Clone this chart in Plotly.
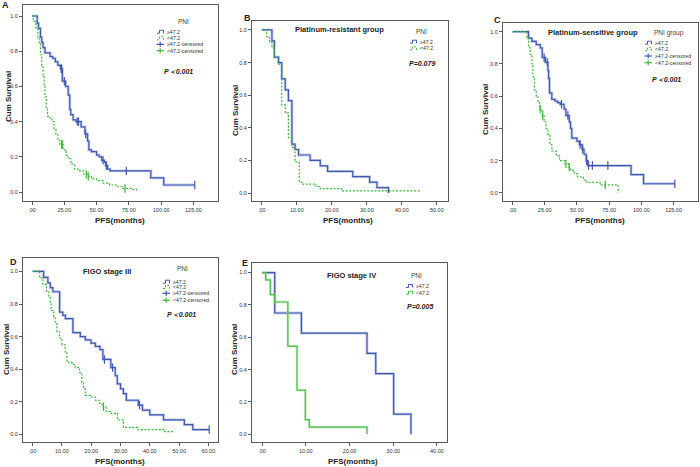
import plotly.graph_objects as go

W, H = 700, 467
BLUE = '#4256ac'
BLUE_SH = 'rgba(140,160,220,0.5)'
GREEN = '#3cb43c'
GREEN_E = '#4cbc4c'
GREEN_SH = 'rgba(150,220,150,0.45)'
FONT = 'Arial, Liberation Sans, sans-serif'
DOT = '2px,1.6px'

# ---------------- data ----------------
# Panel A: all patients
A_hi_t = [0, 4, 5, 6.5, 7.5, 8.5, 10, 14, 16, 18, 20, 22, 23.5, 26, 28, 29.2, 30, 31.8, 34, 38, 41, 43, 44, 46, 50, 52, 54, 56, 57, 58.5, 60.5, 92, 102, 126]
A_hi_s = [1.0, 0.96, 0.93, 0.88, 0.85, 0.82, 0.79, 0.77, 0.76, 0.74, 0.72, 0.70, 0.63, 0.60, 0.55, 0.47, 0.44, 0.41, 0.40, 0.37, 0.33, 0.29, 0.24, 0.23, 0.21, 0.20, 0.18, 0.17, 0.15, 0.13, 0.12, 0.08, 0.04, 0.04]
A_hi_c = [22.5, 23, 25, 35, 36, 41.5, 55, 57.5, 73, 126]
A_lo_t = [0, 1, 3, 4.5, 5.5, 6.5, 7.5, 8.5, 9.3, 10, 11, 12, 14, 15.5, 17, 18.5, 20, 21.5, 24, 26.5, 28, 30, 33, 37, 40, 43, 46, 50, 55, 60, 65, 70, 78, 81]
A_lo_s = [1.0, 0.97, 0.93, 0.88, 0.84, 0.78, 0.72, 0.66, 0.60, 0.54, 0.48, 0.43, 0.42, 0.40, 0.36, 0.33, 0.30, 0.27, 0.24, 0.21, 0.19, 0.16, 0.13, 0.12, 0.10, 0.09, 0.075, 0.065, 0.05, 0.04, 0.03, 0.02, 0.015, 0.005]
A_lo_c = [23, 23.5, 42, 43.5, 72]

# Panel B: platinum-resistant
B_hi_t = [0, 2.9, 3.6, 4.8, 5.7, 6.7, 7.6, 8.6, 9.5, 10.5, 13.8, 16.7, 18.8, 26, 30.8, 32.9, 36.2]
B_hi_s = [1.0, 0.933, 0.833, 0.80, 0.70, 0.633, 0.567, 0.30, 0.267, 0.233, 0.20, 0.167, 0.133, 0.10, 0.067, 0.033, 0.0]
B_lo_t = [0, 1.4, 2.2, 2.9, 3.6, 4.6, 5.7, 6.7, 7.6, 8.6, 9.5, 10.7, 11.7, 15.5, 16.7, 22.7, 45.2]
B_lo_s = [1.0, 0.96, 0.93, 0.89, 0.83, 0.79, 0.54, 0.49, 0.34, 0.28, 0.19, 0.067, 0.055, 0.04, 0.027, 0.013, 0.005]

# Panel C: platinum-sensitive
C_hi_t = [0, 12.4, 15, 18.4, 21.5, 23, 25.5, 27.5, 28, 28.7, 30.5, 33, 35, 37, 40, 41.5, 44, 45, 46, 50, 52, 54, 55.5, 57.2, 58.5, 92, 101.7, 126]
C_hi_s = [1.0, 0.96, 0.94, 0.92, 0.90, 0.84, 0.81, 0.76, 0.71, 0.62, 0.58, 0.57, 0.56, 0.55, 0.52, 0.48, 0.44, 0.40, 0.34, 0.32, 0.30, 0.27, 0.24, 0.20, 0.17, 0.113, 0.057, 0.057]
C_hi_c = [24.5, 27, 38, 43, 52.5, 54.5, 57.5, 59, 62, 74, 126]
C_lo_t = [0, 11.1, 12.5, 13.7, 15, 15.8, 17, 18.4, 19.7, 21, 23, 24.5, 26, 27.5, 29, 30.5, 34, 36.5, 40.5, 43.5, 45, 48, 50.5, 55, 57.7, 68, 82]
C_lo_s = [1.0, 0.96, 0.90, 0.86, 0.80, 0.72, 0.64, 0.60, 0.56, 0.52, 0.48, 0.44, 0.40, 0.36, 0.30, 0.26, 0.23, 0.20, 0.18, 0.16, 0.14, 0.12, 0.10, 0.08, 0.065, 0.05, 0.0]
C_lo_c = [21.5, 23.5, 41.5, 44, 72]

# Panel D: FIGO stage III
D_hi_t = [0, 3.75, 5.2, 6, 6.9, 9.2, 10.3, 11.2, 13.75, 16.25, 18, 19.9, 21.4, 23, 24, 26.7, 28.2, 28.9, 30, 31, 32, 36.1, 37.5, 40, 44.7, 51.8, 54.7, 60.3]
D_hi_s = [1.0, 0.963, 0.93, 0.90, 0.875, 0.75, 0.73, 0.71, 0.625, 0.60, 0.58, 0.56, 0.54, 0.52, 0.46, 0.41, 0.36, 0.31, 0.28, 0.25, 0.21, 0.18, 0.15, 0.12, 0.09, 0.06, 0.03, 0.03]
D_hi_c = [24.5, 27.3, 36.5, 60.3]
D_lo_t = [0, 2.4, 3.5, 4.7, 5.5, 6, 6.3, 7.2, 7.7, 8.3, 9.2, 10, 11.1, 11.7, 12.3, 13.5, 14.5, 16, 16.8, 17.4, 18, 19.9, 21.4, 22.9, 23.7, 25.1, 26.5, 29, 31, 36, 45, 48]
D_lo_s = [1.0, 0.96, 0.92, 0.88, 0.84, 0.80, 0.76, 0.72, 0.68, 0.63, 0.59, 0.55, 0.50, 0.45, 0.44, 0.43, 0.41, 0.38, 0.32, 0.28, 0.24, 0.23, 0.21, 0.19, 0.17, 0.14, 0.13, 0.09, 0.044, 0.03, 0.017, 0.008]
D_lo_c = [24.2]

# Panel E: FIGO stage IV
E_hi_t = [0, 2.9, 9, 24, 26, 30.1, 34.05]
E_hi_s = [1.0, 0.75, 0.625, 0.5, 0.375, 0.125, 0.0]
E_lo_t = [0, 0.84, 1.9, 2.9, 5.9, 8, 9.9, 10.8, 24]
E_lo_s = [1.0, 0.955, 0.864, 0.818, 0.545, 0.273, 0.091, 0.045, 0.0]

Y_TICKS = [0.0, 0.2, 0.4, 0.6, 0.8, 1.0]
Y_TICK_TEXT = ['0.0', '0.2', '0.4', '0.6', '0.8', '1.0']
X_TICKS_125 = [0, 25, 50, 75, 100, 125]
X_TEXT_125 = ['.00', '25.00', '50.00', '75.00', '100.00', '125.00']
X_TICKS_50 = [0, 10, 20, 30, 40, 50]
X_TEXT_50 = ['.00', '10.00', '20.00', '30.00', '40.00', '50.00']
X_TICKS_60 = [0, 10, 20, 30, 40, 50, 60]
X_TEXT_60 = ['.00', '10.00', '20.00', '30.00', '40.00', '50.00', '60.00']
X_TICKS_40 = [0, 10, 20, 30, 40]
X_TEXT_40 = ['.00', '10.00', '20.00', '30.00', '40.00']

LEG4 = ['≥47.2', '<47.2', '≥47.2-censored', '<47.2-censored']
LEG2 = ['≥47.2', '<47.2']
X_TITLE = 'PFS(months)'
Y_TITLE = 'Cum Survival'


def step_at(ts, ss, t):
    v = ss[0]
    for ti, si in zip(ts, ss):
        if ti <= t:
            v = si
        else:
            break
    return v


def px(x):
    return x / W


def py(y):
    return 1 - y / H


panels = [
    dict(letter='A', title=None, box=(23, 5, 218, 201), xr=(-7, 144), yr=(-0.051, 1.0625),
         xt=X_TICKS_125, xtt=X_TEXT_125,
         hi=(A_hi_t, A_hi_s, A_hi_c), lo=(A_lo_t, A_lo_s, A_lo_c), lo_dash=DOT, lo_col=GREEN,
         leg_title='PNI', leg_title_xy=(183, 21), leg_items=LEG4, leg_x=157, leg_y=[31.7, 38.3, 44.3, 50.7],
         p='P＜0.001', p_xy=(178, 71), letter_xy=(5, 5), title_xy=None,
         xtitle_xy=(120, 220), ytitle_xy=(8, 97)),
    dict(letter='B', title='Platinum-resistant group', box=(252, 21, 448, 201), xr=(-2.8, 53.2), yr=(-0.049, 1.055),
         xt=X_TICKS_50, xtt=X_TEXT_50,
         hi=(B_hi_t, B_hi_s, []), lo=(B_lo_t, B_lo_s, []), lo_dash=DOT, lo_col=GREEN,
         leg_title='PNI', leg_title_xy=(421.7, 31.7), leg_items=LEG2, leg_x=410, leg_y=[41.7, 48.3],
         p='P=0.079', p_xy=(421.7, 63.3), letter_xy=(247, 18), title_xy=(339.3, 29.5),
         xtitle_xy=(348, 220), ytitle_xy=(235, 110)),
    dict(letter='C', title='Platinum-sensitive group', box=(503, 23, 697.5, 201), xr=(-7.4, 143.6), yr=(-0.05, 1.054),
         xt=X_TICKS_125, xtt=X_TEXT_125,
         hi=(C_hi_t, C_hi_s, C_hi_c), lo=(C_lo_t, C_lo_s, C_lo_c), lo_dash=DOT, lo_col=GREEN,
         leg_title='PNI group', leg_title_xy=(669, 33), leg_items=LEG4, leg_x=645, leg_y=[42.7, 49.3, 56, 62.7],
         p='P＜0.001', p_xy=(666.7, 80), letter_xy=(497, 20), title_xy=(592.7, 32.3),
         xtitle_xy=(600, 220.5), ytitle_xy=(485, 110)),
    dict(letter='D', title='FIGO stage III', box=(23, 258, 218, 442), xr=(-3.3, 63.3), yr=(-0.046, 1.082),
         xt=X_TICKS_60, xtt=X_TEXT_60,
         hi=(D_hi_t, D_hi_s, D_hi_c), lo=(D_lo_t, D_lo_s, D_lo_c), lo_dash=DOT, lo_col=GREEN,
         leg_title='PNI', leg_title_xy=(182.7, 268.3), leg_items=LEG4, leg_x=163, leg_y=[281.7, 287, 293.3, 300.3],
         p='P＜0.001', p_xy=(181.7, 314.3), letter_xy=(13, 262), title_xy=(106.7, 271.7),
         xtitle_xy=(120, 461), ytitle_xy=(6, 350)),
    dict(letter='E', title='FIGO stage IV', box=(252, 263, 447, 442), xr=(-2.3, 42.3), yr=(-0.0475, 1.059),
         xt=X_TICKS_40, xtt=X_TEXT_40,
         hi=(E_hi_t, E_hi_s, []), lo=(E_lo_t, E_lo_s, []), lo_dash='solid', lo_col=GREEN_E,
         leg_title='PNI', leg_title_xy=(416.7, 275), leg_items=LEG2, leg_x=406, leg_y=[286, 292.7],
         p='P=0.005', p_xy=(420, 306), letter_xy=(245, 263), title_xy=(351.7, 275),
         xtitle_xy=(353, 461), ytitle_xy=(234, 350)),
]

fig = go.Figure()
annotations = []
shapes = []
layout = {}


def ann(x, y, text, size, color='#222', anchor='center', angle=0):
    annotations.append(dict(x=px(x), y=py(y), xref='paper', yref='paper', text=text, showarrow=False,
                            xanchor=anchor, yanchor='middle', textangle=angle,
                            font=dict(family=FONT, size=size, color=color)))


for i, p in enumerate(panels):
    n = '' if i == 0 else str(i + 1)
    xa, ya = 'x' + n, 'y' + n
    x0, y0, x1, y1 = p['box']
    common_ax = dict(showline=True, linecolor='#5a5a5a', linewidth=1, mirror=True, showgrid=False,
                     zeroline=False, ticks='outside', ticklen=3, tickcolor='#5a5a5a', tickwidth=1,
                     tickfont=dict(family=FONT, size=5.5, color='#333'))
    layout['xaxis' + n] = dict(domain=[px(x0), px(x1)], range=list(p['xr']), anchor=ya,
                               tickvals=p['xt'], ticktext=p['xtt'], **common_ax)
    layout['yaxis' + n] = dict(domain=[py(y1), py(y0)], range=list(p['yr']), anchor=xa,
                               tickvals=Y_TICKS, ticktext=Y_TICK_TEXT, **common_ax)
    for grp, color, shadow, dash in (('hi', BLUE, BLUE_SH, 'solid'), ('lo', p['lo_col'], GREEN_SH, p['lo_dash'])):
        t, s, c = p[grp]
        if dash == 'solid':
            fig.add_trace(go.Scatter(x=t, y=s, mode='lines', line=dict(color=shadow, width=2.8, shape='hv'),
                                     xaxis=xa, yaxis=ya, showlegend=False, hoverinfo='skip'))
        fig.add_trace(go.Scatter(x=t, y=s, mode='lines', line=dict(color=color, width=1.2, shape='hv', dash=dash),
                                 xaxis=xa, yaxis=ya, showlegend=False))
        if c:
            fig.add_trace(go.Scatter(x=c, y=[step_at(t, s, ci) for ci in c], mode='markers',
                                     marker=dict(symbol='line-ns', size=6, line=dict(color=color, width=1.2)),
                                     xaxis=xa, yaxis=ya, showlegend=False))
    lx, ly = p['letter_xy']
    ann(lx, ly, '<b>%s</b>' % p['letter'], 9)
    if p['title']:
        tx, ty = p['title_xy']
        ann(tx, ty, '<b>%s</b>' % p['title'], 7.5)
    qx, qy = p['p_xy']
    ann(qx, qy, '<b><i>%s</i></b>' % p['p'], 7)
    ax_, ay_ = p['xtitle_xy']
    ann(ax_, ay_, '<b>%s</b>' % X_TITLE, 8)
    yx_, yy_ = p['ytitle_xy']
    ann(yx_, yy_, '<b>%s</b>' % Y_TITLE, 8, angle=-90)
    # manual legend
    gx, gy = p['leg_title_xy']
    ann(gx, gy, p['leg_title'], 6.5, color='#444')
    lx0 = p['leg_x']
    for k, (label, yy) in enumerate(zip(p['leg_items'], p['leg_y'])):
        col = BLUE if k % 2 == 0 else p['lo_col']
        d = 'solid' if k % 2 == 0 else p['lo_dash']
        if k < 2:
            path = 'M %f,%f L %f,%f L %f,%f L %f,%f L %f,%f' % (
                px(lx0), py(yy + 1.5), px(lx0 + 2.5), py(yy + 1.5), px(lx0 + 2.5), py(yy - 1.5),
                px(lx0 + 6.5), py(yy - 1.5), px(lx0 + 6.5), py(yy + 1.5))
            shapes.append(dict(type='path', path=path, xref='paper', yref='paper',
                               line=dict(color=col, width=1, dash=d)))
        else:
            shapes.append(dict(type='line', xref='paper', yref='paper', x0=px(lx0 - 0.5), x1=px(lx0 + 7),
                               y0=py(yy), y1=py(yy), line=dict(color=col, width=1.2)))
            shapes.append(dict(type='line', xref='paper', yref='paper', x0=px(lx0 + 3.2), x1=px(lx0 + 3.2),
                               y0=py(yy - 2.5), y1=py(yy + 2.5), line=dict(color=col, width=1.2)))
        ann(lx0 + 7.5, yy, label, 5.2, color='#333', anchor='left')

fig.update_layout(width=W, height=H, margin=dict(l=0, r=0, t=0, b=0),
                  paper_bgcolor='white', plot_bgcolor='white', showlegend=False,
                  annotations=annotations, shapes=shapes, **layout)
fig.write_html('out.html', config={'displayModeBar': False},
               post_script="document.body.style.margin='0';document.body.style.overflow='hidden';")
